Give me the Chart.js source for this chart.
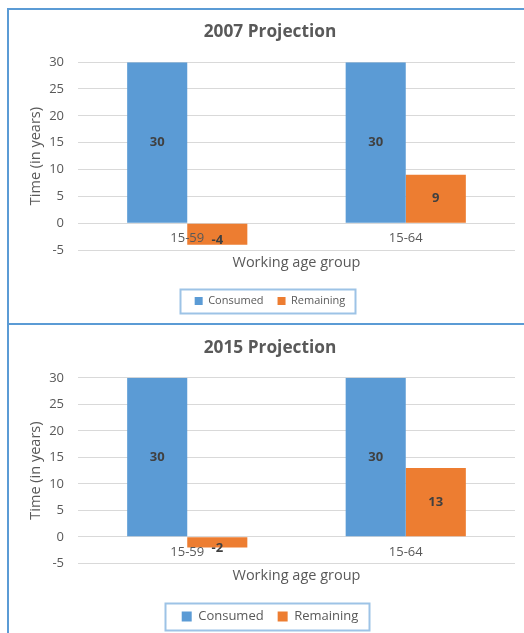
<!DOCTYPE html>
<html>
<head>
<meta charset="utf-8">
<script src="https://cdn.jsdelivr.net/npm/chart.js@4"></script>
<style>
  html, body { margin: 0; padding: 0; background: #fff; overflow: hidden; width: 524px; height: 633px; }
  .panel { position: absolute; left: 7px; width: 530px; border-left: 2px solid #5B9BD5; border-top: 2px solid #5B9BD5; }
  #p1 { top: 8px; height: 313px; }
  #p2 { top: 323px; height: 320px; }
  canvas { display: block; }
</style>
</head>
<body>
<div class="panel" id="p1"><canvas id="c1" width="522" height="313"></canvas></div>
<div class="panel" id="p2"><canvas id="c2" width="522" height="308"></canvas></div>
<script>
// ---- data ----
const categories = ['15-59', '15-64'];
const seriesNames = ['Consumed', 'Remaining'];
const consumed2007 = [30, 30];
const remaining2007 = [-4, 9];
const consumed2015 = [30, 30];
const remaining2015 = [-2, 13];
const yMin = -5, yMax = 30, yStep = 5;
const titles = ['2007 Projection', '2015 Projection'];
const xTitle = 'Working age group';
const yTitle = 'Time (in years)';

Chart.defaults.font.family = "'Open Sans', 'DejaVu Sans', sans-serif";
Chart.defaults.color = '#595959';

const BLUE = '#5B9BD5', ORANGE = '#ED7D31', GRID = '#D9D9D9', TEXT = '#595959';

const valueLabels = {
  id: 'valueLabels',
  afterDraw(chart) {
    const ctx = chart.ctx;
    ctx.save();
    ctx.font = "bold 13px 'Open Sans', sans-serif";
    ctx.fillStyle = '#404040';
    ctx.textAlign = 'center';
    ctx.textBaseline = 'middle';
    chart.data.datasets.forEach((ds, i) => {
      const meta = chart.getDatasetMeta(i);
      meta.data.forEach((el, j) => {
        const v = ds.data[j];
        const y = (el.y + el.base) / 2 + (v < 0 ? 6 : 0);
        ctx.fillText(String(v), el.x, y);
      });
    });
    ctx.restore();
  }
};

const legendBorder = {
  id: 'legendBorder',
  afterDraw(chart, args, opts) {
    const lg = chart.legend;
    if (!lg || !lg.legendHitBoxes || !lg.legendHitBoxes.length) return;
    const hb = lg.legendHitBoxes;
    const first = hb[0], last = hb[hb.length - 1];
    const cy = first.top + first.height / 2;
    const left = first.left - opts.padLeft;
    const right = last.left + last.width + opts.padRight;
    const ctx = chart.ctx;
    ctx.save();
    ctx.strokeStyle = '#9DC3E6';
    ctx.lineWidth = 2;
    ctx.strokeRect(Math.round(left) + 0.5, Math.round(cy - opts.halfH) + 0.5, Math.round(right - left), Math.round(opts.halfH * 2));
    ctx.restore();
  }
};

function makeChart(id, title, consumed, remaining, cfg) {
  return new Chart(document.getElementById(id), {
    type: 'bar',
    data: {
      labels: categories,
      datasets: [
        { label: seriesNames[0], data: consumed, backgroundColor: BLUE, borderWidth: 0, categoryPercentage: 0.55, barPercentage: 1 },
        { label: seriesNames[1], data: remaining, backgroundColor: ORANGE, borderWidth: 0, categoryPercentage: 0.55, barPercentage: 1 }
      ]
    },
    options: {
      responsive: false,
      animation: false,
      layout: { padding: { left: 16, right: 16, top: 0, bottom: cfg.padBottom } },
      plugins: {
        title: { display: true, text: title, color: TEXT, font: { size: 17.3, weight: 'bold' }, padding: { top: cfg.titleTop, bottom: cfg.titleBottom } },
        legend: {
          position: 'bottom',
          labels: { boxWidth: cfg.box, boxHeight: cfg.box, padding: 14, color: TEXT, font: { size: cfg.legendFont } }
        },
        tooltip: { enabled: false },
        legendBorder: { padLeft: cfg.lgPadL, padRight: cfg.lgPadR, halfH: cfg.lgHalfH }
      },
      scales: {
        x: {
          type: 'category',
          position: { y: 0 },
          offset: true,
          grid: { display: false, drawTicks: false },
          border: { display: false },
          ticks: { z: 1, padding: 7.5, color: TEXT, font: { size: 13 } }
        },
        x2: {
          type: 'category',
          position: 'bottom',
          offset: true,
          grid: { display: false, drawTicks: false },
          border: { display: false },
          ticks: { display: false },
          title: { display: true, text: xTitle, color: TEXT, font: { size: 14.5 }, padding: { top: cfg.xtTop, bottom: cfg.xtBottom } }
        },
        y: {
          min: yMin, max: yMax,
          ticks: { stepSize: yStep, padding: 14, color: TEXT, font: { size: 13 } },
          grid: { color: GRID, lineWidth: 1, drawTicks: false },
          border: { display: false },
          title: { display: true, text: yTitle, color: TEXT, font: { size: 14.5 }, padding: { top: 2.3, bottom: 0 } },
          afterFit(s) { s.width = 53; }
        }
      }
    },
    plugins: [valueLabels, legendBorder]
  });
}

makeChart('c1', titles[0], consumed2007, remaining2007, {
  padBottom: 6.5, titleTop: 11.8, titleBottom: 19.6, xtTop: 4.3, xtBottom: 9.8,
  box: 8, legendFont: 11, lgPadL: 15, lgPadR: 9, lgHalfH: 12
});
makeChart('c2', titles[1], consumed2015, remaining2015, {
  padBottom: 0, titleTop: 12.5, titleBottom: 19.6, xtTop: 4, xtBottom: 11.3,
  box: 10, legendFont: 13, lgPadL: 17, lgPadR: 10, lgHalfH: 13.5
});
</script>
</body>
</html>
